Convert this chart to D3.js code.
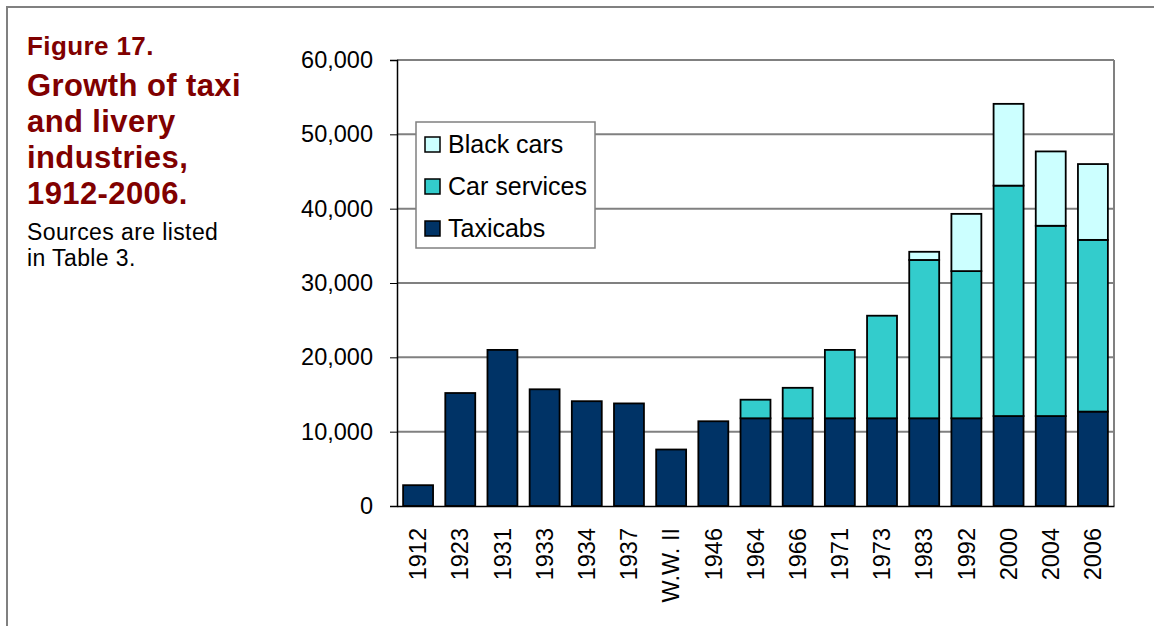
<!DOCTYPE html>
<html>
<head>
<meta charset="utf-8">
<script src="https://cdn.jsdelivr.net/npm/d3@7"></script>
<style>
  body { margin: 0; background: #fff; }
  svg { display: block; font-family: "Liberation Sans", Arial, sans-serif; }
</style>
</head>
<body>
<div id="chart"></div>
<script>
// data
var categories = ["1912", "1923", "1931", "1933", "1934", "1937", "W.W. II", "1946", "1964", "1966", "1971", "1973", "1983", "1992", "2000", "2004", "2006"];
var taxicabs    = [2800, 15200, 21000, 15700, 14100, 13800, 7600, 11400, 11800, 11800, 11800, 11800, 11800, 11800, 12100, 12100, 12700];
var carServices = [0, 0, 0, 0, 0, 0, 0, 0, 2500, 4100, 9200, 13800, 21300, 19800, 31000, 25600, 23100];
var blackCars   = [0, 0, 0, 0, 0, 0, 0, 0, 0, 0, 0, 0, 1100, 7700, 11000, 10000, 10200];
var yTicks = [0, 10000, 20000, 30000, 40000, 50000, 60000];

var seriesNames = ["Taxicabs", "Car services", "Black cars"];
var colors = {"Taxicabs": "#003366", "Car services": "#33cccc", "Black cars": "#ccffff"};

var W = 1154, H = 626;
var margin = {top: 60, right: 40, bottom: 120, left: 397};
var width = 1114 - margin.left, height = 506 - margin.top;

var rows = categories.map(function (c, i) {
    return {cat: c, "Taxicabs": taxicabs[i], "Car services": carServices[i], "Black cars": blackCars[i]};
});
var stacked = d3.stack().keys(seriesNames)(rows);

var svg = d3.select("#chart").append("svg").attr("width", W).attr("height", H);

// outer frame
svg.append("rect").attr("x", 7).attr("y", 7).attr("width", W + 10).attr("height", H + 10)
    .attr("fill", "none").attr("stroke", "#808080").attr("stroke-width", 2);

// title block
var title = svg.append("g").attr("fill", "#800000").attr("font-weight", "bold").attr("letter-spacing", 0.4);
title.append("text").attr("x", 27).attr("y", 55).attr("font-size", 26).text("Figure 17.");
["Growth of taxi", "and livery", "industries,", "1912-2006."].forEach(function (t, i) {
    title.append("text").attr("x", 27).attr("y", 96 + i * 36).attr("font-size", 31).text(t);
});
["Sources are listed", "in Table 3."].forEach(function (t, i) {
    svg.append("text").attr("x", 27).attr("y", 240 + i * 26).attr("font-size", 23)
        .attr("letter-spacing", 0.4).attr("fill", "#000").text(t);
});

var g = svg.append("g").attr("transform", "translate(" + margin.left + "," + margin.top + ")");

var x = d3.scaleBand().domain(categories).range([0, width]).paddingInner(0.29).paddingOuter(0.145);
var y = d3.scaleLinear().domain([0, 60000]).range([height, 0]);

// gridlines
g.selectAll("line.grid").data(yTicks.slice(1)).enter().append("line")
    .attr("x1", 0).attr("x2", width)
    .attr("y1", function (d) { return y(d); }).attr("y2", function (d) { return y(d); })
    .attr("stroke", "#808080").attr("stroke-width", 2);
g.append("line").attr("x1", width).attr("x2", width).attr("y1", 0).attr("y2", height)
    .attr("stroke", "#808080").attr("stroke-width", 2);

// bars
g.selectAll("g.layer").data(stacked).enter().append("g")
    .attr("fill", function (d) { return colors[d.key]; })
    .selectAll("rect").data(function (d) { return d.filter(function (p) { return p[1] > p[0]; }); })
    .enter().append("rect")
    .attr("x", function (d) { return x(d.data.cat); })
    .attr("width", x.bandwidth())
    .attr("y", function (d) { return y(d[1]); })
    .attr("height", function (d) { return y(d[0]) - y(d[1]); })
    .attr("stroke", "#000").attr("stroke-width", 1.8);

// y axis
var yAxis = g.append("g").call(d3.axisLeft(y).tickValues(yTicks).tickSize(7).tickPadding(17).tickFormat(d3.format(",")));
yAxis.select(".domain").attr("stroke", "#000").attr("stroke-width", 1.5);
yAxis.selectAll(".tick line").attr("stroke", "#000");
yAxis.selectAll("text").attr("font-size", 23.5).attr("fill", "#000").attr("font-family", "Liberation Sans, Arial, sans-serif");

// x axis
var xAxis = g.append("g").attr("transform", "translate(0," + height + ")")
    .call(d3.axisBottom(x).tickSize(0).tickPadding(0));
xAxis.select(".domain").attr("stroke", "#000").attr("stroke-width", 1.5);
xAxis.selectAll("text")
    .attr("font-size", 23.5).attr("fill", "#000").attr("font-family", "Liberation Sans, Arial, sans-serif")
    .attr("transform", "rotate(-90)")
    .attr("text-anchor", "end")
    .attr("x", -22).attr("y", 0).attr("dy", "0.35em");

// legend
var legend = g.append("g").attr("transform", "translate(" + (416 - margin.left) + "," + (122 - margin.top) + ")");
legend.append("rect").attr("width", 179).attr("height", 126).attr("fill", "#fff")
    .attr("stroke", "#808080").attr("stroke-width", 1.5);
seriesNames.slice().reverse().forEach(function (s, i) {
    var row = legend.append("g").attr("transform", "translate(9," + (22 + i * 42) + ")");
    row.append("rect").attr("x", 0).attr("y", -7).attr("width", 15).attr("height", 15)
        .attr("fill", colors[s]).attr("stroke", "#000").attr("stroke-width", 1.5);
    row.append("text").attr("x", 23).attr("y", 0).attr("dy", "0.35em").attr("font-size", 25).text(s);
});
</script>
</body>
</html>
